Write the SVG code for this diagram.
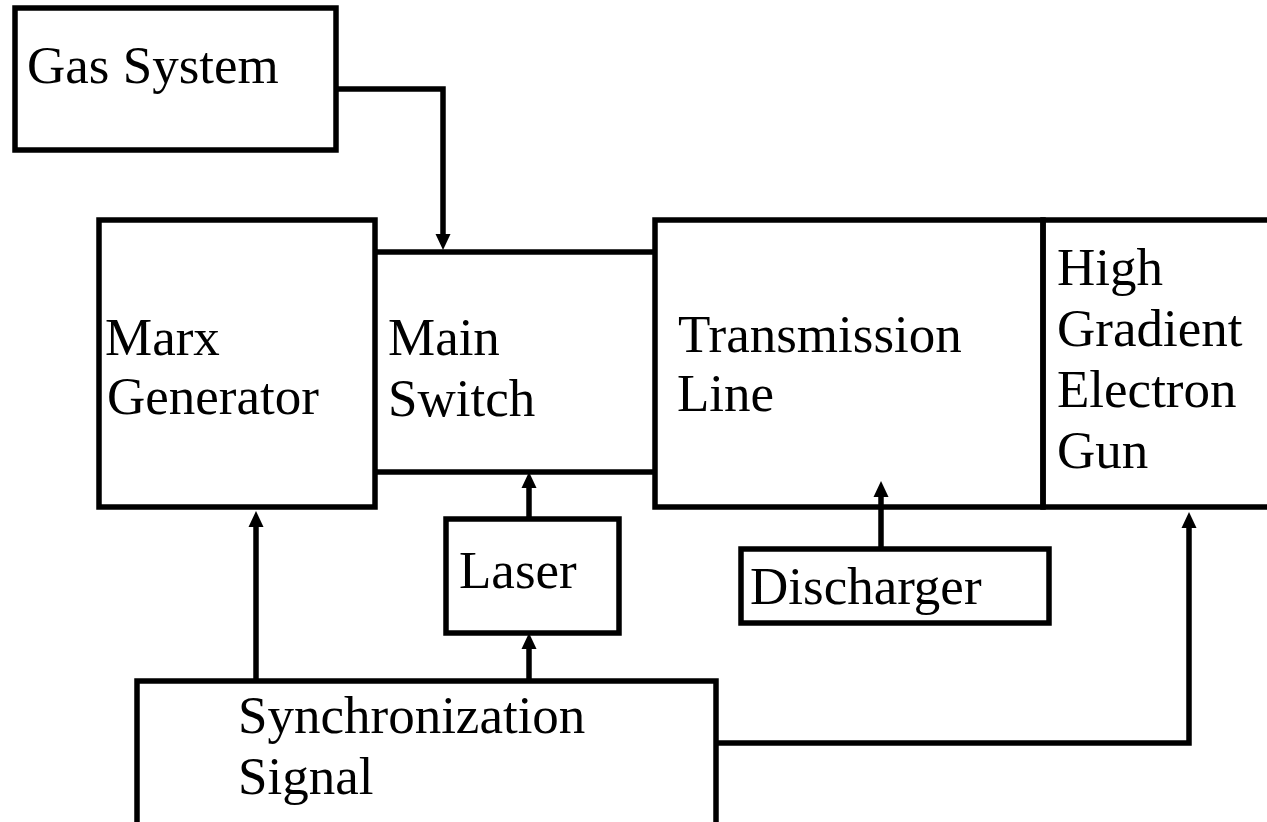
<svg xmlns="http://www.w3.org/2000/svg" width="1267" height="822" viewBox="0 0 1267 822">
<style>
.box{fill:none;stroke:#000;stroke-width:5.5}
.lbl{font-family:"Liberation Serif","Times New Roman",serif;font-size:53px;fill:#000}
.con{fill:none;stroke:#000;stroke-width:5.5;marker-end:url(#ah)}
.plain{fill:none;stroke:#000;stroke-width:5.5}
</style>
<defs>
<marker id="ah" markerUnits="userSpaceOnUse" viewBox="0 0 16 16" refX="8" refY="8" markerWidth="16" markerHeight="16" orient="auto">
<path d="M0,0.5 L16,8 L0,15.5 Z" fill="#000"/>
</marker>
</defs>
<rect width="1267" height="822" fill="#fff"/>
<g id="gas-system">
<rect class="box" x="15" y="8" width="321" height="142"/>
<text class="lbl" x="27" y="83">Gas System</text>
</g>
<g id="marx-generator">
<rect class="box" x="99" y="220" width="276" height="287"/>
<text class="lbl" x="105" y="355">Marx</text>
<text class="lbl" x="107" y="414">Generator</text>
</g>
<g id="main-switch">
<line class="plain" x1="375" y1="252" x2="655" y2="252"/>
<line class="plain" x1="375" y1="472" x2="655" y2="472"/>
<text class="lbl" x="388" y="355">Main</text>
<text class="lbl" x="388" y="416">Switch</text>
</g>
<g id="transmission-line">
<rect class="box" x="655" y="220" width="388" height="287"/>
<text class="lbl" x="678" y="352">Transmission</text>
<text class="lbl" x="677" y="411">Line</text>
</g>
<g id="electron-gun">
<rect class="box" x="1043" y="220" width="240" height="287"/>
<text class="lbl" x="1057" y="285">High</text>
<text class="lbl" x="1057" y="346">Gradient</text>
<text class="lbl" x="1057" y="407">Electron</text>
<text class="lbl" x="1057" y="468">Gun</text>
</g>
<g id="laser">
<rect class="box" x="446" y="519" width="173" height="114"/>
<text class="lbl" x="459" y="588">Laser</text>
</g>
<g id="discharger">
<rect class="box" x="741" y="549" width="308" height="74"/>
<text class="lbl" x="750" y="604">Discharger</text>
</g>
<g id="synchronization-signal">
<rect class="box" x="137" y="681" width="579" height="160"/>
<text class="lbl" x="238" y="733">Synchronization</text>
<text class="lbl" x="238" y="794">Signal</text>
</g>
<g id="connectors">
<polyline class="con" points="336,89 443,89 443,242"/>
<line class="con" x1="256" y1="681" x2="256" y2="519"/>
<line class="con" x1="529" y1="519" x2="529" y2="480"/>
<line class="con" x1="529" y1="681" x2="529" y2="641"/>
<line class="con" x1="881" y1="549" x2="881" y2="489"/>
<polyline class="con" points="716,743 1189,743 1189,520"/>
</g>
</svg>
